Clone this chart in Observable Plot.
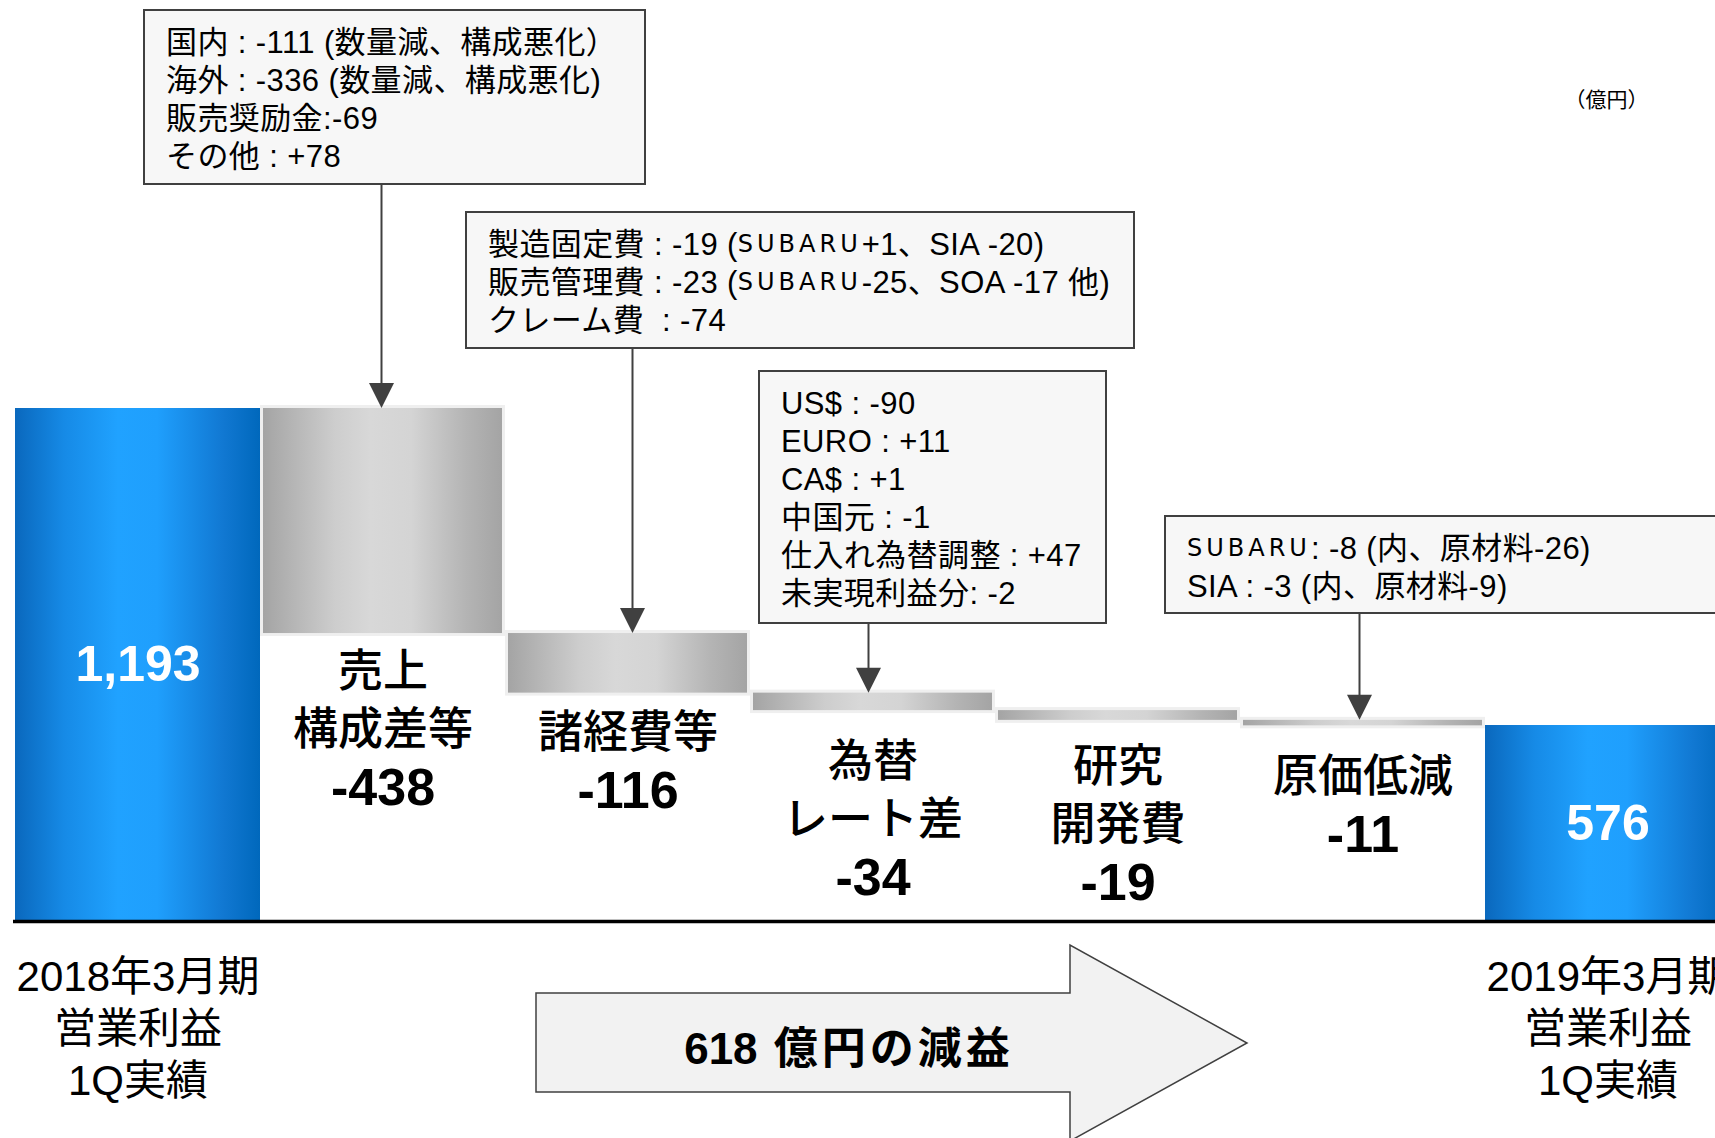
<!DOCTYPE html>
<html>
<head>
<meta charset="utf-8">
<script src="https://cdn.jsdelivr.net/npm/d3@7"></script>
<script src="https://cdn.jsdelivr.net/npm/@observablehq/plot@0.6"></script>
<style>
  html, body { margin: 0; padding: 0; background: #fff; overflow: hidden; }
  #chart svg { display: block; }
</style>
</head>
<body>
<div id="chart"></div>
<script>
// ---------------- data ----------------
const steps = ["2018年3月期 1Q", "売上構成差等", "諸経費等", "為替レート差", "研究開発費", "原価低減", "2019年3月期 1Q"];
const amounts = [1193, -438, -116, -34, -19, -11, 576];
const stepKinds = ["total", "delta", "delta", "delta", "delta", "delta", "total"];
const valueLabels = ["1,193", "-438", "-116", "-34", "-19", "-11", "576"];
const stepNames = ["", "売上\n構成差等", "諸経費等", "為替\nレート差", "研究\n開発費", "原価低減", ""];
const periodLabels = ["2018年3月期\n営業利益\n1Q実績", "", "", "", "", "", "2019年3月期\n営業利益\n1Q実績"];

const calloutSales = ["国内 : -111 (数量減、構成悪化）", "海外 : -336 (数量減、構成悪化)", "販売奨励金:-69", "その他 : +78"];
const calloutExpenses = ["製造固定費 : -19 (SUBARU+1、SIA -20)", "販売管理費 : -23 (SUBARU-25、SOA -17 他)", "クレーム費  : -74"];
const calloutFx = ["US$ : -90", "EURO : +11", "CA$ : +1", "中国元 : -1", "仕入れ為替調整 : +47", "未実現利益分: -2"];
const calloutCost = ["SUBARU: -8 (内、原材料-26)", "SIA : -3 (内、原材料-9)"];

const unitLabel = "（億円）";
const summaryNumber = "618";
const summaryText = " 億円の減益";

// ---------------- layout ----------------
const W = 1715, H = 1138;
const X0 = 13, BW = 245.5;
const yDomain = [0, amounts[6], amounts[0]];   // broken (piecewise) value axis
const yRange = [921, 725, 408];
const yS = d3.scaleLinear(yDomain, yRange);

const JP = "'Liberation Sans', 'Noto Sans CJK JP', sans-serif";

// waterfall rows
let run = 0;
const rows = steps.map((s, i) => {
  let y1, y2;
  if (stepKinds[i] === "total") { y1 = 0; y2 = amounts[i]; run = amounts[i]; }
  else { y1 = run; y2 = run + amounts[i]; run = y2; }
  return {step: s, kind: stepKinds[i], y1, y2, top: Math.max(y1, y2), bottom: Math.min(y1, y2),
          value: valueLabels[i], name: stepNames[i], period: periodLabels[i]};
});
const totals = rows.filter(d => d.kind === "total");
const deltas = rows.filter(d => d.kind === "delta");
const topOf = s => rows.find(d => d.step === s).top;

// label rows below delta bars
const nameDrop = [0, 39, 40, 52, 47, 52, 0];
const NAME_STEP = 58;
const nameRows = [], deltaValueRows = [];
rows.forEach((d, i) => {
  if (d.kind !== "delta") return;
  const lines = d.name.split("\n");
  const first = yS(d.bottom) + nameDrop[i];
  lines.forEach((t, k) => nameRows.push({step: d.step, text: t, y: yS.invert(first + NAME_STEP * k)}));
  deltaValueRows.push({step: d.step, text: d.value, y: yS.invert(first + NAME_STEP * lines.length)});
});
const totalValueRows = totals.map(d => ({step: d.step, text: d.value, y: yS.invert((yS(0) + yS(d.y2)) / 2)}));
const periodRows = [];
rows.forEach(d => {
  if (!d.period) return;
  d.period.split("\n").forEach((t, k) => periodRows.push({step: d.step, text: t, y: yS.invert(yS(0) + 56 + 52 * k)}));
});

// callout boxes
const boxes = [
  {step: steps[1], lines: calloutSales,    x: 144,  y: 10,  w: 501, h: 174, dx: -1},
  {step: steps[2], lines: calloutExpenses, x: 466,  y: 212, w: 668, h: 136, dx: 5},
  {step: steps[3], lines: calloutFx,       x: 759,  y: 371, w: 347, h: 252, dx: -4},
  {step: steps[5], lines: calloutCost,     x: 1165, y: 516, w: 620, h: 97,  dx: -3}
];

function defsMark() {
  const g = d3.create("svg:g");
  const defs = g.append("defs");
  const blue = defs.append("linearGradient").attr("id", "blueGrad").attr("x1", 0).attr("x2", 1).attr("y1", 0).attr("y2", 0);
  [[0, "#0a68bd"], [0.2, "#168ae6"], [0.42, "#20a2ff"], [0.58, "#1f9ffd"], [0.85, "#1178d2"], [1, "#0068bc"]]
    .forEach(([o, c]) => blue.append("stop").attr("offset", o).attr("stop-color", c));
  const gray = defs.append("linearGradient").attr("id", "grayGrad").attr("x1", 0).attr("x2", 1).attr("y1", 0).attr("y2", 0);
  [[0, "#a4a4a4"], [0.3, "#cdcdcd"], [0.45, "#d8d8d8"], [0.62, "#d4d4d4"], [0.85, "#b4b4b4"], [1, "#a4a4a4"]]
    .forEach(([o, c]) => gray.append("stop").attr("offset", o).attr("stop-color", c));
  return g.node();
}

function calloutMark(index, scales) {
  const g = d3.create("svg:g");
  const bw = typeof scales.x.bandwidth === "function" ? scales.x.bandwidth() : (scales.x.bandwidth ?? BW);
  boxes.forEach(b => {
    const ax = scales.x(b.step) + bw / 2 + b.dx;
    const tip = scales.y(topOf(b.step));
    g.append("line").attr("x1", ax).attr("x2", ax).attr("y1", b.y + b.h).attr("y2", tip - 20)
      .attr("stroke", "#404040").attr("stroke-width", 2);
    g.append("path").attr("d", `M${ax - 12.5},${tip - 25}L${ax + 12.5},${tip - 25}L${ax},${tip}Z`).attr("fill", "#404040");
    g.append("rect").attr("x", b.x).attr("y", b.y).attr("width", b.w).attr("height", b.h)
      .attr("fill", "#f7f7f7").attr("stroke", "#404040").attr("stroke-width", 2);
    b.lines.forEach((line, k) => {
      const t = g.append("text").attr("x", b.x + 22).attr("y", b.y + 32 + 38 * k)
        .attr("text-anchor", "start").attr("letter-spacing", 0.4)
        .attr("dominant-baseline", "central").attr("font-family", JP).attr("font-size", 31).attr("fill", "#000");
      line.split(/(SUBARU)/).forEach(part => {
        if (!part) return;
        const ts = t.append("tspan").text(part);
        if (part === "SUBARU") ts.attr("font-family", "'DejaVu Sans', sans-serif").attr("font-size", 24).attr("letter-spacing", 4);
      });
    });
  });
  return g.node();
}

function summaryArrowMark() {
  const g = d3.create("svg:g");
  g.append("path").attr("d", "M536,993H1070V945L1247,1043L1070,1141V1092H536Z")
    .attr("fill", "#f2f2f2").attr("stroke", "#404040").attr("stroke-width", 1.5);
  const t = g.append("text").attr("x", 849).attr("y", 1048).attr("text-anchor", "middle")
    .attr("dominant-baseline", "central").attr("font-family", JP).attr("font-size", 44).attr("font-weight", "bold");
  t.append("tspan").text(summaryNumber);
  t.append("tspan").attr("letter-spacing", 4).text(summaryText);
  return g.node();
}

const plot = Plot.plot({
  width: W,
  height: H,
  margin: 0,
  style: {background: "#fff", fontFamily: JP, overflow: "hidden"},
  x: {type: "band", domain: steps, range: [X0, X0 + BW * steps.length], padding: 0, axis: null},
  y: {type: "linear", domain: yDomain, range: yRange, axis: null},
  marks: [
    defsMark,
    Plot.barY(totals, {x: "step", y1: "y1", y2: "y2", fill: "url(#blueGrad)", inset: 0}),
    // light outer border of the gray steps
    Plot.barY(deltas, {x: "step", y1: "y1", y2: "y2", fill: "#efefef", insetTop: -3, insetBottom: -3, insetLeft: 0, insetRight: 0}),
    Plot.barY(deltas, {x: "step", y1: "y1", y2: "y2", fill: "url(#grayGrad)", insetLeft: 3, insetRight: 3}),
    Plot.ruleY([0], {stroke: "#000", strokeWidth: 3.5, insetLeft: X0}),
    calloutMark,
    summaryArrowMark,
    Plot.text(totalValueRows, {x: "step", y: "y", text: "text", fill: "#fff", fontSize: 50, fontWeight: "bold",
      fontFamily: "'Liberation Sans', Arial, sans-serif", lineAnchor: "middle"}),
    Plot.text(nameRows, {x: "step", y: "y", text: "text", fill: "#000", fontSize: 45, fontWeight: 500, lineAnchor: "middle"}),
    Plot.text(deltaValueRows, {x: "step", y: "y", text: "text", fill: "#000", fontSize: 52, fontWeight: "bold",
      fontFamily: "'Liberation Sans', Arial, sans-serif", lineAnchor: "middle"}),
    Plot.text(periodRows, {x: "step", y: "y", text: "text", fill: "#000", fontSize: 42, lineAnchor: "middle"}),
    Plot.text([unitLabel], {frameAnchor: "top-left", dx: 1606, dy: 100, text: d => d, fontSize: 21, fill: "#000", textAnchor: "middle", lineAnchor: "middle"})
  ]
});
document.getElementById("chart").appendChild(plot);
</script>
</body>
</html>
